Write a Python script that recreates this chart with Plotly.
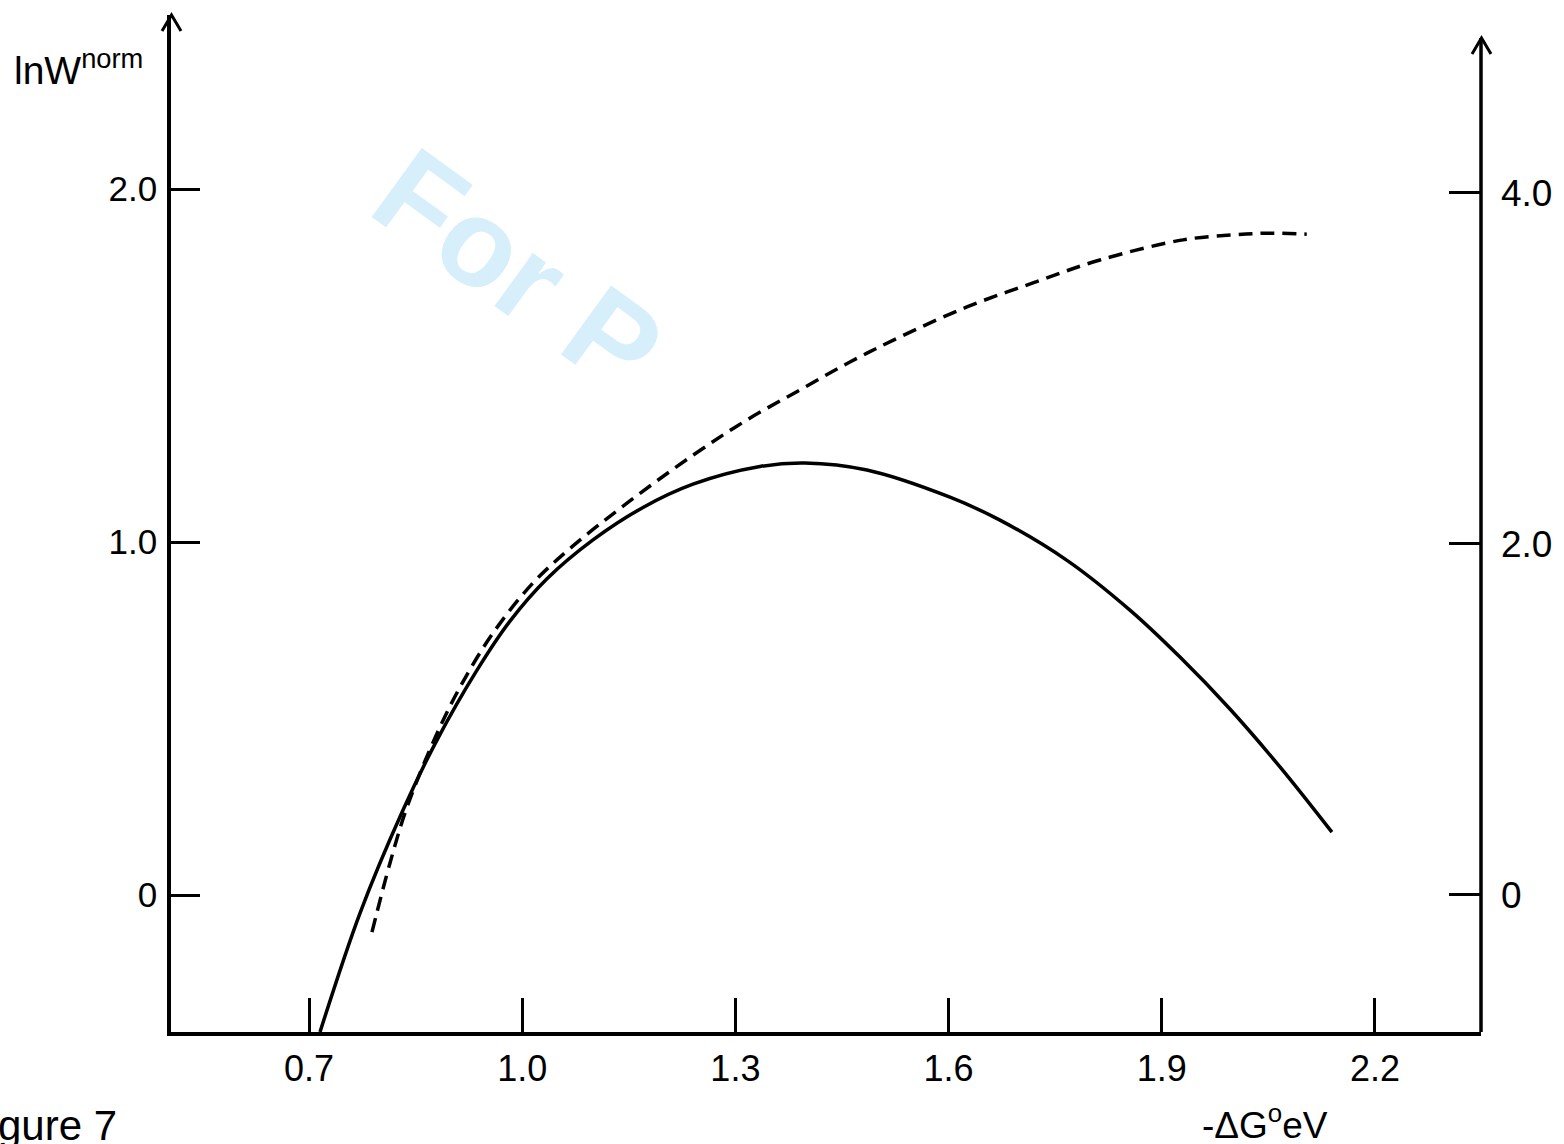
import plotly.graph_objects as go

# ---- data ----
solid_x = [0.7155, 0.7718, 0.8323, 0.8801, 0.9364, 0.9828, 1.0349, 1.0996, 1.1700, 1.2403, 1.3346,
           1.3979, 1.4851, 1.6019, 1.6723, 1.7666, 1.8552, 1.9256, 1.9959, 2.0663, 2.1394]
solid_y = [-0.388, -0.051, 0.241, 0.439, 0.637, 0.776, 0.896, 1.006, 1.098, 1.164, 1.214,
           1.224, 1.204, 1.127, 1.062, 0.948, 0.807, 0.674, 0.527, 0.363, 0.178]

dashed_x = [0.7886, 0.8140, 0.8379, 0.8773, 0.9125, 0.9589, 1.0152, 1.0715, 1.1474, 1.2403, 1.3163,
            1.3909, 1.4612, 1.5316, 1.6258, 1.7187, 1.8130, 1.9298, 2.0001, 2.0522, 2.1040]
dashed_y = [-0.105, 0.091, 0.249, 0.445, 0.589, 0.742, 0.884, 0.989, 1.110, 1.246, 1.346,
            1.431, 1.510, 1.581, 1.666, 1.734, 1.799, 1.856, 1.870, 1.875, 1.872]

x_ticks = [0.7, 1.0, 1.3, 1.6, 1.9, 2.2]
x_ticklabels = ["0.7", "1.0", "1.3", "1.6", "1.9", "2.2"]
y_ticks = [0, 1, 2]
y_ticklabels = ["0", "1.0", "2.0"]
y2_ticks = [0, 2, 4]
y2_ticklabels = ["0", "2.0", "4.0"]

W, H = 1564, 1144
L, R, T, B = 171, 1481, 15, 1032
FONT = "Liberation Sans, Arial, sans-serif"


def px(xp):
    return (xp - L) / (R - L)


def py(yp):
    return (B - yp) / (B - T)


fig = go.Figure()
fig.add_trace(go.Scatter(x=solid_x, y=solid_y, mode="lines",
                         line=dict(color="black", width=3.5, shape="spline", smoothing=1.0),
                         showlegend=False, hoverinfo="skip"))
fig.add_trace(go.Scatter(x=dashed_x, y=dashed_y, mode="lines",
                         line=dict(color="black", width=3.5, dash="14px,8px", shape="spline", smoothing=1.0),
                         showlegend=False, hoverinfo="skip"))
# invisible trace to activate right axis
fig.add_trace(go.Scatter(x=[1.0], y=[0], yaxis="y2", mode="markers", marker=dict(opacity=0),
                         showlegend=False, hoverinfo="skip"))

fig.update_layout(
    width=W, height=H,
    margin=dict(l=L, r=W - R, t=T, b=H - B),
    paper_bgcolor="white", plot_bgcolor="white",
    font=dict(family=FONT, color="black", size=36),
    xaxis=dict(range=[0.5058, 2.3492], tickvals=x_ticks, ticktext=x_ticklabels,
               ticks="inside", ticklen=34, tickwidth=3, tickcolor="black",
               showline=True, linewidth=3.5, linecolor="black", mirror=False,
               showgrid=False, zeroline=False, ticklabelstandoff=2,
               tickfont=dict(size=36, family=FONT)),
    yaxis=dict(range=[-0.388, 2.493], tickvals=y_ticks, ticktext=y_ticklabels,
               ticks="inside", ticklen=29, tickwidth=3, tickcolor="black",
               showline=True, linewidth=3.5, linecolor="black",
               showgrid=False, zeroline=False, ticklabelstandoff=3,
               tickfont=dict(size=35, family=FONT)),
    yaxis2=dict(range=[-0.781, 5.014], tickvals=y2_ticks, ticktext=y2_ticklabels,
                overlaying="y", side="right", anchor="x",
                ticks="inside", ticklen=32, tickwidth=3, tickcolor="black",
                showline=False, showgrid=False, zeroline=False, ticklabelstandoff=19,
                tickfont=dict(size=37, family=FONT)),
)

# right axis line and arrowheads
fig.add_shape(type="line", xref="paper", yref="paper", x0=1, x1=1, y0=0, y1=py(38),
              line=dict(color="black", width=3.5))
fig.add_shape(type="path", xref="paper", yref="paper",
              path=f"M {px(162)},{py(31)} L {px(171.5)},{py(15)} L {px(181)},{py(31)}",
              line=dict(color="black", width=3))
fig.add_shape(type="path", xref="paper", yref="paper",
              path=f"M {px(1472)},{py(54)} L {px(1481.5)},{py(38)} L {px(1491)},{py(54)}",
              line=dict(color="black", width=3))

# watermark
fig.add_annotation(text="<b>For P</b>", xref="paper", yref="paper", x=px(518), y=py(270),
                   xanchor="center", yanchor="middle", showarrow=False, textangle=36,
                   font=dict(family=FONT, size=124, color="rgb(214,239,251)"))

# axis titles
fig.add_annotation(text="lnW<sup>norm</sup>", xref="paper", yref="paper", x=px(12), y=py(67),
                   xanchor="left", yanchor="middle", showarrow=False,
                   font=dict(family=FONT, size=39, color="black"))
fig.add_annotation(text="-\u0394G<sup>o</sup>eV", xref="paper", yref="paper", x=px(1265), y=py(1122),
                   xanchor="center", yanchor="middle", showarrow=False,
                   font=dict(family=FONT, size=37, color="black"))
fig.add_annotation(text="Figure 7", xref="paper", yref="paper", x=px(119), y=py(1125),
                   xanchor="right", yanchor="middle", showarrow=False,
                   font=dict(family=FONT, size=42, color="black"))

fig.write_html("out.html", config={"displayModeBar": False},
               post_script="document.body.style.margin='0';document.body.style.overflow='hidden';")
